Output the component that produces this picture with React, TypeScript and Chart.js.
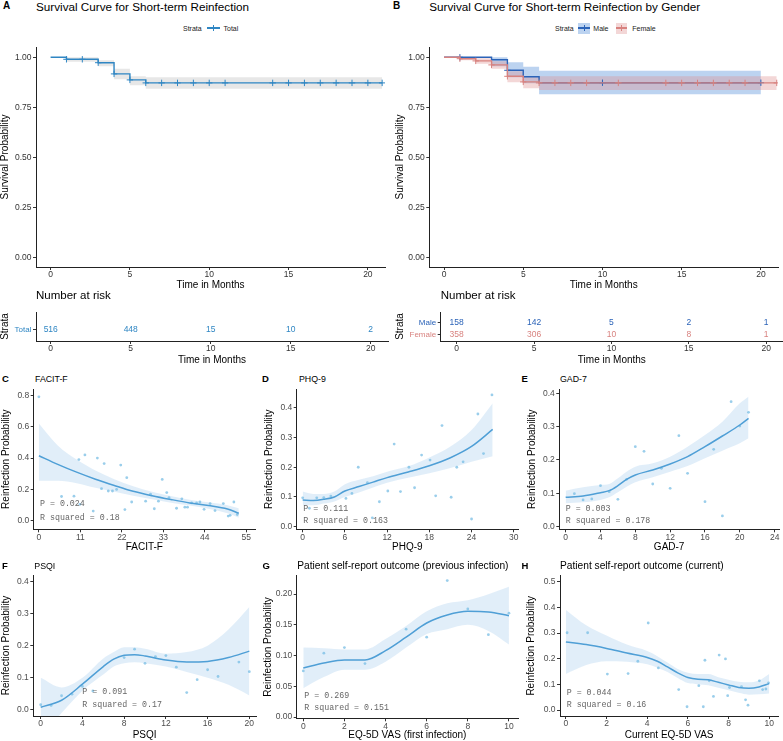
import React, { useEffect, useRef } from 'react';
import { Chart, registerables } from 'chart.js';
Chart.register(...registerables);

const SANS = '"Liberation Sans", Arial, Helvetica, sans-serif';
const MONO = '"Liberation Mono", "DejaVu Sans Mono", monospace';

// ---------------- Kaplan-Meier data ----------------
const kmTotalTime = [0, 1, 3, 4, 5, 6, 20.9];
const kmTotalSurv = [1, 0.99, 0.973, 0.917, 0.887, 0.872, 0.872];
const kmTotalUpper = [1, 1, 0.985, 0.943, 0.905, 0.9, 0.9];
const kmTotalLower = [1, 0.978, 0.955, 0.89, 0.86, 0.843, 0.843];
const kmTotalCensorTime = [1, 2, 3, 4, 5, 6, 7, 8, 9, 10, 11, 14, 15, 16, 17, 18, 19, 20, 20.9];
const kmTotalCensorSurv = [0.99, 0.99, 0.973, 0.917, 0.887, 0.872, 0.872, 0.872, 0.872, 0.872, 0.872, 0.872, 0.872, 0.872, 0.872, 0.872, 0.872, 0.872, 0.872];

const kmMaleTime = [0, 3, 4, 5, 6, 20];
const kmMaleSurv = [1, 0.988, 0.935, 0.903, 0.873, 0.873];
const kmMaleUpper = [1, 1, 0.975, 0.953, 0.933, 0.933];
const kmMaleLower = [1, 0.955, 0.9, 0.87, 0.815, 0.815];
const kmMaleCensorTime = [1, 4, 10, 20];
const kmMaleCensorSurv = [1, 0.935, 0.873, 0.873];

const kmFemaleTime = [0, 1, 2, 3, 4, 5, 6, 21];
const kmFemaleSurv = [1, 0.993, 0.982, 0.962, 0.905, 0.877, 0.872, 0.872];
const kmFemaleUpper = [1, 1, 0.995, 0.98, 0.93, 0.905, 0.905, 0.905];
const kmFemaleLower = [1, 0.985, 0.968, 0.943, 0.875, 0.845, 0.837, 0.837];
const kmFemaleCensorTime = [1, 2, 3, 4, 5, 6, 7, 8, 9, 11, 14, 15, 16, 17, 18, 19, 21];
const kmFemaleCensorSurv = [0.993, 0.982, 0.962, 0.905, 0.877, 0.872, 0.872, 0.872, 0.872, 0.872, 0.872, 0.872, 0.872, 0.872, 0.872, 0.872, 0.872];

const kmTimeTicks = [0, 5, 10, 15, 20];
const kmSurvTicks = [0, 0.25, 0.5, 0.75, 1];

// ---------------- Number at risk ----------------
const riskTimes = [0, 5, 10, 15, 20];
const riskTotal = [516, 448, 15, 10, 2];
const riskMale = [158, 142, 5, 2, 1];
const riskFemale = [358, 306, 10, 8, 1];

// ---------------- C: FACIT-F ----------------
const facitX = [0, 6, 9.3, 10.6, 12.2, 10.9, 14.4, 15.5, 17.3, 16.6, 18.4, 19.5, 20.6, 21.7, 22.8, 23.3, 24.6, 28.3, 29.6, 30.6, 31.7, 32.7, 33.9, 34.5, 36.5, 37.9, 38.7, 39.4, 40.5, 41.8, 42.7, 43.8, 45.4, 46.7, 48.9, 50.2, 50.7, 51.7, 52.6];
const facitY = [0.79, 0.155, 0.157, 0.39, 0.42, 0.105, 0.062, 0.4, 0.365, 0.205, 0.19, 0.19, 0.2, 0.355, 0.072, 0.275, 0.12, 0.125, 0.17, 0.077, 0.125, 0.264, 0.18, 0.148, 0.08, 0.14, 0.087, 0.087, 0.114, 0.114, 0.12, 0.073, 0.11, 0.065, 0.11, 0.03, 0.035, 0.12, 0.04];
const facitFitX = [0, 5, 10, 15, 20, 25, 30, 35, 40, 45, 50, 53];
const facitFit = [0.415, 0.36, 0.31, 0.265, 0.225, 0.188, 0.16, 0.136, 0.114, 0.097, 0.075, 0.048];
const facitUpper = [0.62, 0.48, 0.39, 0.32, 0.265, 0.22, 0.185, 0.158, 0.135, 0.118, 0.1, 0.08];
const facitLower = [0.255, 0.255, 0.24, 0.21, 0.185, 0.16, 0.137, 0.115, 0.097, 0.077, 0.048, 0.02];

// ---------------- D: PHQ-9 ----------------
const phqX = [0, 0.95, 2, 3, 4, 6.15, 7, 7.9, 9.2, 9.9, 10.9, 12.1, 13, 13.9, 15.1, 15.9, 16.9, 18.1, 18.9, 19.8, 21.1, 21.9, 22.8, 24, 24.9, 25.7, 26.9];
const phqY = [0.097, 0.062, 0.097, 0.098, 0.103, 0.095, 0.112, 0.2, 0.148, 0.03, 0.084, 0.12, 0.278, 0.118, 0.2, 0.131, 0.241, 0.224, 0.104, 0.34, 0.099, 0.2, 0.218, 0.026, 0.379, 0.246, 0.443];
const phqFitX = [0, 1.5, 3, 4.5, 6, 8, 10, 12, 15, 18, 21, 24, 27];
const phqFit = [0.09, 0.088, 0.092, 0.1, 0.12, 0.135, 0.15, 0.165, 0.184, 0.205, 0.232, 0.27, 0.327];
const phqUpper = [0.118, 0.11, 0.11, 0.118, 0.143, 0.158, 0.17, 0.185, 0.203, 0.233, 0.27, 0.325, 0.415];
const phqLower = [0.072, 0.072, 0.078, 0.085, 0.1, 0.115, 0.132, 0.148, 0.165, 0.18, 0.197, 0.218, 0.237];

// ---------------- E: GAD-7 ----------------
const gadX = [1, 2, 3, 4, 5, 6, 7, 8, 9, 10, 11, 12, 13, 14, 16, 17, 18, 19, 20, 21];
const gadY = [0.099, 0.08, 0.083, 0.123, 0.105, 0.082, 0.142, 0.24, 0.226, 0.128, 0.175, 0.115, 0.273, 0.16, 0.075, 0.232, 0.032, 0.375, 0.302, 0.343];
const gadFitX = [0, 2, 4, 5, 6, 7, 8, 10, 12, 14, 16, 18, 20, 21];
const gadFit = [0.088, 0.092, 0.102, 0.108, 0.123, 0.142, 0.155, 0.17, 0.188, 0.21, 0.24, 0.272, 0.305, 0.325];
const gadUpper = [0.108, 0.118, 0.125, 0.128, 0.145, 0.165, 0.18, 0.19, 0.21, 0.24, 0.275, 0.315, 0.37, 0.39];
const gadLower = [0.07, 0.073, 0.08, 0.088, 0.103, 0.12, 0.133, 0.148, 0.165, 0.182, 0.205, 0.228, 0.25, 0.265];

// ---------------- F: PSQI ----------------
const psqiX = [0, 1, 2, 3, 4, 5, 8, 9, 10, 11, 12, 13, 14, 15, 16, 17, 19, 20];
const psqiY = [0.016, 0.014, 0.044, 0.049, 0.073, 0.059, 0.163, 0.189, 0.145, 0.166, 0.169, 0.133, 0.054, 0.094, 0.125, 0.104, 0.149, 0.119];
const psqiFitX = [0, 2, 4, 6, 7, 8, 9, 10, 12, 14, 16, 18, 20];
const psqiFit = [0.008, 0.03, 0.08, 0.135, 0.158, 0.17, 0.172, 0.168, 0.155, 0.149, 0.151, 0.163, 0.183];
const psqiUpper = [0.1, 0.07, 0.1, 0.16, 0.18, 0.195, 0.195, 0.19, 0.175, 0.18, 0.2, 0.25, 0.32];
const psqiLower = [-0.085, -0.01, 0.06, 0.11, 0.135, 0.145, 0.148, 0.145, 0.135, 0.118, 0.1, 0.078, 0.045];

// ---------------- G: EQ-5D VAS (first infection) ----------------
const vasFirstX = [0, 1, 2, 3, 5, 6, 7, 8, 9, 10];
const vasFirstY = [0.075, 0.104, 0.113, 0.087, 0.143, 0.13, 0.222, 0.176, 0.134, 0.169];
const vasFirstFitX = [0, 1, 2, 3, 4, 5, 6, 7, 8, 9, 10];
const vasFirstFit = [0.08, 0.088, 0.093, 0.093, 0.108, 0.13, 0.153, 0.166, 0.172, 0.171, 0.165];
const vasFirstUpper = [0.113, 0.112, 0.11, 0.11, 0.127, 0.148, 0.172, 0.185, 0.19, 0.2, 0.212];
const vasFirstLower = [0.047, 0.065, 0.077, 0.077, 0.09, 0.113, 0.135, 0.143, 0.15, 0.14, 0.118];

// ---------------- H: Current EQ-5D VAS ----------------
const vasCurX = [0.06, 1.07, 2.04, 3.06, 3.54, 4.05, 4.55, 5.55, 5.96, 6.54, 6.76, 6.84, 7.05, 7.26, 7.54, 7.85, 7.96, 8.05, 8.64, 8.84, 8.96, 9.52, 9.68, 9.84, 9.97];
const vasCurY = [0.301, 0.301, 0.14, 0.142, 0.19, 0.339, 0.164, 0.08, 0.013, 0.095, 0.013, 0.194, 0.114, 0.053, 0.214, 0.199, 0.056, 0.088, 0.091, 0.04, 0.019, 0.114, 0.08, 0.082, 0.106];
const vasCurFitX = [0, 1, 2, 3, 4, 4.5, 5, 5.5, 6, 6.5, 7, 7.5, 8, 8.5, 9, 9.5, 10];
const vasCurFit = [0.265, 0.255, 0.24, 0.222, 0.205, 0.19, 0.168, 0.145, 0.127, 0.12, 0.118, 0.108, 0.098, 0.088, 0.085, 0.09, 0.103];
const vasCurUpper = [0.39, 0.33, 0.29, 0.255, 0.23, 0.21, 0.185, 0.16, 0.145, 0.14, 0.14, 0.128, 0.118, 0.11, 0.108, 0.115, 0.14];
const vasCurLower = [0.14, 0.175, 0.19, 0.188, 0.178, 0.165, 0.148, 0.125, 0.105, 0.1, 0.097, 0.087, 0.077, 0.067, 0.06, 0.062, 0.065];

// ---------------- styling ----------------
const TOTAL_COL = '#2f86c3';
const MALE_COL = '#2b63b8';
const FEMALE_COL = '#d8827f';
const GRAY_BAND = 'rgba(185,185,185,0.35)';
const MALE_BAND = 'rgba(95,150,220,0.42)';
const FEMALE_BAND = 'rgba(222,140,140,0.35)';
const FIT_COL = '#4f9fd6';
const PT_COL = 'rgba(120,190,228,0.75)';
const SM_BAND = 'rgba(170,205,238,0.35)';

const pts = (xs: number[], ys: number[]) => xs.map((x, i) => ({ x, y: ys[i] }));

function kmSets(t, s, up, lo, ct, cs, color, band) {
  return {
    lines: [
      { data: pts(t, s), showLine: true, stepped: true, borderColor: color, borderWidth: 1.4, pointRadius: 0, fill: false },
      { data: pts(ct, cs), showLine: false, pointStyle: 'cross', pointRadius: 3.2, pointBorderColor: color, pointBackgroundColor: color, pointBorderWidth: 1 },
    ],
    bands: [
      { data: pts(t, up), showLine: true, stepped: true, borderWidth: 0, borderColor: 'rgba(0,0,0,0)', pointRadius: 0, fill: '+1', backgroundColor: band },
      { data: pts(t, lo), showLine: true, stepped: true, borderWidth: 0, borderColor: 'rgba(0,0,0,0)', pointRadius: 0, fill: false },
    ],
  };
}

function smoothSets(px, py, fx, fy, fu, fl) {
  return [
    { data: pts(fx, fy), showLine: true, borderColor: FIT_COL, borderWidth: 1.5, pointRadius: 0, cubicInterpolationMode: 'monotone', fill: false },
    { data: pts(px, py), showLine: false, pointRadius: 1.4, pointBackgroundColor: PT_COL, pointBorderWidth: 0 },
    { data: pts(fx, fu), showLine: true, borderWidth: 0, borderColor: 'rgba(0,0,0,0)', pointRadius: 0, cubicInterpolationMode: 'monotone', fill: '+1', backgroundColor: SM_BAND },
    { data: pts(fx, fl), showLine: true, borderWidth: 0, borderColor: 'rgba(0,0,0,0)', pointRadius: 0, cubicInterpolationMode: 'monotone', fill: false },
  ];
}

const riskPlugin = {
  id: 'riskText',
  afterDatasetsDraw(chart, _a, opts) {
    const { ctx } = chart;
    const xs = chart.scales.x;
    const ys = chart.scales.y;
    ctx.save();
    ctx.font = `8.5px ${SANS}`;
    ctx.textAlign = 'center';
    ctx.textBaseline = 'middle';
    const rows = opts.rows || [];
    for (let r = 0; r < rows.length; r++) {
      const row = rows[r];
      ctx.fillStyle = row.color;
      for (let i = 0; i < row.values.length; i++) {
        ctx.fillText(String(row.values[i]), xs.getPixelForValue(opts.times[i]), ys.getPixelForValue(row.y));
      }
    }
    ctx.restore();
  },
};

type Spec = {
  canvas: { left: number; top: number; width: number; height: number };
  area: { left: number; top: number; right: number; bottom: number };
  x: { min: number; max: number; ticks: number[]; dec: number; title: string; titleY: number };
  y: { min: number; max: number; ticks: number[]; dec: number; title: string; titleX: number; labels?: string[]; colors?: string[]; labelSize?: number };
  datasets: any[];
  plugins?: any[];
  pluginOpts?: any;
  tickColor?: string;
};

function buildConfig(s: Spec) {
  const c = s.canvas;
  const a = s.area;
  const yW = a.left - c.left;
  const xH = c.top + c.height - a.bottom;
  const tfs = 10;
  const lh = tfs * 1.2;
  const tcol = s.tickColor || '#4d4d4d';
  return {
    type: 'scatter',
    data: { datasets: s.datasets },
    plugins: s.plugins || [],
    options: {
      responsive: false,
      maintainAspectRatio: false,
      animation: false,
      devicePixelRatio: 1,
      layout: { padding: { left: 0, top: a.top - c.top, right: c.left + c.width - a.right, bottom: 0 } },
      plugins: { legend: { display: false }, tooltip: { enabled: false }, ...(s.pluginOpts || {}) },
      scales: {
        x: {
          type: 'linear',
          position: 'bottom',
          min: s.x.min,
          max: s.x.max,
          afterBuildTicks: (sc) => { sc.ticks = s.x.ticks.map((v) => ({ value: v })); },
          afterFit: (sc) => { sc.height = xH; sc.paddingLeft = 0; sc.paddingRight = 0; },
          ticks: {
            autoSkip: false, maxRotation: 0, minRotation: 0, padding: 0, color: tcol,
            font: { family: SANS, size: 8.5 },
            callback: (v) => Number(v).toFixed(s.x.dec),
          },
          grid: { display: true, drawOnChartArea: false, drawTicks: true, tickLength: 3, tickColor: '#333', tickWidth: 1 },
          border: { display: true, color: '#222', width: 1 },
          title: {
            display: true, text: s.x.title, color: '#000', font: { family: SANS, size: tfs },
            padding: { top: 0, bottom: a.bottom + xH - s.x.titleY - lh / 2 },
          },
        },
        y: {
          type: 'linear',
          position: 'left',
          min: s.y.min,
          max: s.y.max,
          afterBuildTicks: (sc) => { sc.ticks = s.y.ticks.map((v) => ({ value: v })); },
          afterFit: (sc) => { sc.width = yW; sc.paddingTop = 0; sc.paddingBottom = 0; },
          ticks: {
            autoSkip: false, padding: 1.5,
            color: s.y.colors ? (ctx) => s.y.colors[ctx.index] : tcol,
            font: { family: SANS, size: s.y.labelSize || 8.5 },
            callback: (v, i) => (s.y.labels ? s.y.labels[i] : Number(v).toFixed(s.y.dec)),
          },
          grid: { display: true, drawOnChartArea: false, drawTicks: true, tickLength: 3, tickColor: '#333', tickWidth: 1 },
          border: { display: true, color: '#222', width: 1 },
          title: {
            display: true, text: s.y.title, color: '#000', font: { family: SANS, size: tfs },
            padding: { top: s.y.titleX - c.left - lh / 2, bottom: 0 },
          },
        },
      },
    },
  };
}

function ChartCanvas({ spec }: { spec: Spec }) {
  const ref = useRef<HTMLCanvasElement | null>(null);
  useEffect(() => {
    const chart = new Chart(ref.current as HTMLCanvasElement, buildConfig(spec) as any);
    return () => chart.destroy();
  }, []);
  const c = spec.canvas;
  return (
    <canvas
      ref={ref}
      width={c.width}
      height={c.height}
      style={{ position: 'absolute', left: c.left, top: c.top, width: c.width, height: c.height }}
    />
  );
}

function Txt({ x, y, size, children, color = '#000', bold = false, mono = false }) {
  return (
    <div
      style={{
        position: 'absolute', left: x, top: y - size / 2, fontSize: size, lineHeight: `${size}px`,
        fontFamily: mono ? MONO : SANS, color, fontWeight: bold ? 'bold' : 'normal', whiteSpace: 'nowrap',
      }}
    >
      {children}
    </div>
  );
}

function Box({ x, y, w, h, bg }) {
  return <div style={{ position: 'absolute', left: x, top: y, width: w, height: h, background: bg }} />;
}

const totalKM = kmSets(kmTotalTime, kmTotalSurv, kmTotalUpper, kmTotalLower, kmTotalCensorTime, kmTotalCensorSurv, TOTAL_COL, GRAY_BAND);
const maleKM = kmSets(kmMaleTime, kmMaleSurv, kmMaleUpper, kmMaleLower, kmMaleCensorTime, kmMaleCensorSurv, MALE_COL, MALE_BAND);
const femaleKM = kmSets(kmFemaleTime, kmFemaleSurv, kmFemaleUpper, kmFemaleLower, kmFemaleCensorTime, kmFemaleCensorSurv, FEMALE_COL, FEMALE_BAND);

const specs: Spec[] = [
  // A
  {
    canvas: { left: 0, top: 40, width: 390, height: 252 },
    area: { left: 36, top: 47, right: 388, bottom: 267 },
    x: { min: -0.92, max: 21.08, ticks: kmTimeTicks, dec: 0, title: 'Time in Months', titleY: 285 },
    y: { min: -0.0485, max: 1.0515, ticks: kmSurvTicks, dec: 2, title: 'Survival Probability', titleX: 5.5 },
    datasets: [...totalKM.lines, ...totalKM.bands],
    tickColor: '#333',
  },
  // B
  {
    canvas: { left: 390, top: 40, width: 393, height: 252 },
    area: { left: 429.3, top: 47, right: 783, bottom: 267 },
    x: { min: -0.93, max: 21.08, ticks: kmTimeTicks, dec: 0, title: 'Time in Months', titleY: 285 },
    y: { min: -0.0485, max: 1.0515, ticks: kmSurvTicks, dec: 2, title: 'Survival Probability', titleX: 400.5 },
    datasets: [...femaleKM.lines, ...maleKM.lines, ...femaleKM.bands, ...maleKM.bands],
    tickColor: '#333',
  },
  // Risk A
  {
    canvas: { left: 0, top: 305, width: 390, height: 62 },
    area: { left: 36, top: 312, right: 388, bottom: 341 },
    x: { min: -0.92, max: 21.08, ticks: kmTimeTicks, dec: 0, title: 'Time in Months', titleY: 360 },
    y: { min: 0, max: 1, ticks: [0.403], dec: 0, title: 'Strata', titleX: 5.5, labels: ['Total'], colors: [TOTAL_COL], labelSize: 8 },
    datasets: [],
    plugins: [riskPlugin],
    pluginOpts: { riskText: { times: riskTimes, rows: [{ y: 0.403, values: riskTotal, color: TOTAL_COL }] } },
    tickColor: '#333',
  },
  // Risk B
  {
    canvas: { left: 390, top: 305, width: 393, height: 62 },
    area: { left: 440.7, top: 312, right: 783, bottom: 341 },
    x: { min: -1.03, max: 21.09, ticks: kmTimeTicks, dec: 0, title: 'Time in Months', titleY: 360 },
    y: { min: 0, max: 1, ticks: [0.207, 0.631], dec: 0, title: 'Strata', titleX: 400, labels: ['Female', 'Male'], colors: [FEMALE_COL, MALE_COL], labelSize: 8 },
    datasets: [],
    plugins: [riskPlugin],
    pluginOpts: {
      riskText: {
        times: riskTimes,
        rows: [
          { y: 0.631, values: riskMale, color: MALE_COL },
          { y: 0.207, values: riskFemale, color: FEMALE_COL },
        ],
      },
    },
    tickColor: '#333',
  },
  // C
  {
    canvas: { left: 0, top: 385, width: 260, height: 170 },
    area: { left: 33.7, top: 388, right: 255, bottom: 529.3 },
    x: { min: -1.38, max: 57.3, ticks: [0, 11, 22, 33, 44, 55], dec: 0, title: 'FACIT-F', titleY: 547.7 },
    y: { min: -0.054, max: 0.84, ticks: [0, 0.2, 0.4, 0.6, 0.8], dec: 1, title: 'Reinfection Probability', titleX: 6 },
    datasets: smoothSets(facitX, facitY, facitFitX, facitFit, facitUpper, facitLower),
  },
  // D
  {
    canvas: { left: 260, top: 385, width: 262, height: 170 },
    area: { left: 296.7, top: 389, right: 518.3, bottom: 529.3 },
    x: { min: -0.85, max: 30.6, ticks: [0, 6, 12, 18, 24, 30], dec: 0, title: 'PHQ-9', titleY: 547.7 },
    y: { min: -0.0087, max: 0.463, ticks: [0, 0.1, 0.2, 0.3, 0.4], dec: 1, title: 'Reinfection Probability', titleX: 269 },
    datasets: smoothSets(phqX, phqY, phqFitX, phqFit, phqUpper, phqLower),
  },
  // E
  {
    canvas: { left: 520, top: 385, width: 263, height: 170 },
    area: { left: 559.3, top: 389, right: 779.3, bottom: 529.3 },
    x: { min: -0.73, max: 24.5, ticks: [0, 4, 8, 12, 16, 20, 24], dec: 0, title: 'GAD-7', titleY: 547.7 },
    y: { min: -0.008, max: 0.413, ticks: [0, 0.1, 0.2, 0.3, 0.4], dec: 1, title: 'Reinfection Probability', titleX: 532 },
    datasets: smoothSets(gadX, gadY, gadFitX, gadFit, gadUpper, gadLower),
  },
  // F
  {
    canvas: { left: 0, top: 570, width: 260, height: 171 },
    area: { left: 33.3, top: 575, right: 256, bottom: 716 },
    x: { min: -0.71, max: 20.64, ticks: [0, 4, 8, 12, 16, 20], dec: 0, title: 'PSQI', titleY: 735 },
    y: { min: -0.019, max: 0.42, ticks: [0, 0.1, 0.2, 0.3, 0.4], dec: 1, title: 'Reinfection Probability', titleX: 6 },
    datasets: smoothSets(psqiX, psqiY, psqiFitX, psqiFit, psqiUpper, psqiLower),
  },
  // G
  {
    canvas: { left: 260, top: 570, width: 262, height: 171 },
    area: { left: 296.7, top: 575.7, right: 518.3, bottom: 718.3 },
    x: { min: -0.32, max: 10.44, ticks: [0, 2, 4, 6, 8, 10], dec: 0, title: 'EQ-5D VAS (first infection)', titleY: 735 },
    y: { min: -0.002, max: 0.23, ticks: [0, 0.05, 0.1, 0.15, 0.2], dec: 2, title: 'Reinfection Probability', titleX: 268.5 },
    datasets: smoothSets(vasFirstX, vasFirstY, vasFirstFitX, vasFirstFit, vasFirstUpper, vasFirstLower),
  },
  // H
  {
    canvas: { left: 520, top: 570, width: 263, height: 171 },
    area: { left: 560, top: 575.7, right: 778.3, bottom: 716 },
    x: { min: -0.29, max: 10.45, ticks: [0, 2, 4, 6, 8, 10], dec: 0, title: 'Current EQ-5D VAS', titleY: 735 },
    y: { min: -0.023, max: 0.523, ticks: [0, 0.1, 0.2, 0.3, 0.4, 0.5], dec: 1, title: 'Reinfection Probability', titleX: 531.5 },
    datasets: smoothSets(vasCurX, vasCurY, vasCurFitX, vasCurFit, vasCurUpper, vasCurLower),
  },
];

const annotations = [
  { x: 40, y: 504, t: 'P = 0.024' }, { x: 40, y: 517.7, t: 'R squared = 0.18' },
  { x: 303.3, y: 509, t: 'P = 0.111' }, { x: 303.3, y: 521, t: 'R squared = 0.163' },
  { x: 565.7, y: 509.3, t: 'P = 0.003' }, { x: 565.7, y: 521, t: 'R squared = 0.178' },
  { x: 82.3, y: 692.3, t: 'P = 0.091' }, { x: 82.3, y: 705, t: 'R squared = 0.17' },
  { x: 304.3, y: 696, t: 'P = 0.269' }, { x: 304.3, y: 708.3, t: 'R squared = 0.151' },
  { x: 566.7, y: 692.7, t: 'P = 0.044' }, { x: 566.7, y: 705, t: 'R squared = 0.16' },
];

export default function App() {
  return (
    <div style={{ position: 'absolute', left: 0, top: 0, width: 783, height: 741, background: '#fff', overflow: 'hidden' }}>
      {specs.map((s, i) => <ChartCanvas key={i} spec={s} />)}

      {/* Panel letters and titles */}
      <Txt x={3} y={6} size={10} bold>A</Txt>
      <Txt x={36} y={7} size={11.7}>Survival Curve for Short-term Reinfection</Txt>
      <Txt x={393} y={6} size={10} bold>B</Txt>
      <Txt x={429.3} y={7} size={11.7}>Survival Curve for Short-term Reinfection by Gender</Txt>

      {/* Legend A */}
      <Txt x={183} y={28} size={7} color="#222">Strata</Txt>
      <Box x={207} y={27.3} w={13} h={1.4} bg={TOTAL_COL} />
      <Box x={212.9} y={25} w={1.2} h={6} bg={TOTAL_COL} />
      <Txt x={223.5} y={28} size={7} color="#222">Total</Txt>

      {/* Legend B */}
      <Txt x={555} y={28} size={7} color="#222">Strata</Txt>
      <Box x={578.3} y={22.5} w={11.7} h={11} bg={MALE_BAND} />
      <Box x={578.3} y={27.3} w={11.7} h={1.4} bg={MALE_COL} />
      <Box x={583.6} y={25} w={1.2} h={6} bg={MALE_COL} />
      <Txt x={593.3} y={28} size={7} color="#222">Male</Txt>
      <Box x={615.7} y={22.5} w={11.7} h={11} bg={FEMALE_BAND} />
      <Box x={615.7} y={27.3} w={11.7} h={1.4} bg={FEMALE_COL} />
      <Box x={621} y={25} w={1.2} h={6} bg={FEMALE_COL} />
      <Txt x={632.3} y={28} size={7} color="#222">Female</Txt>

      {/* Risk table titles */}
      <Txt x={36} y={296} size={11.5}>Number at risk</Txt>
      <Txt x={440.7} y={296} size={11.5}>Number at risk</Txt>

      {/* Row 1 */}
      <Txt x={2} y={379} size={9.5} bold>C</Txt>
      <Txt x={35} y={379} size={8.8}>FACIT-F</Txt>
      <Txt x={262} y={379} size={9.5} bold>D</Txt>
      <Txt x={299} y={379} size={8.8}>PHQ-9</Txt>
      <Txt x={521.5} y={379} size={9.5} bold>E</Txt>
      <Txt x={560} y={379} size={8.8}>GAD-7</Txt>

      {/* Row 2 */}
      <Txt x={2} y={565.5} size={9.5} bold>F</Txt>
      <Txt x={34.3} y={566} size={8.8}>PSQI</Txt>
      <Txt x={262.5} y={566} size={9.5} bold>G</Txt>
      <Txt x={297.3} y={566.5} size={10.2}>Patient self-report outcome (previous infection)</Txt>
      <Txt x={521.5} y={566} size={9.5} bold>H</Txt>
      <Txt x={560} y={566.5} size={10.2}>Patient self-report outcome (current)</Txt>

      {annotations.map((a, i) => (
        <Txt key={'an' + i} x={a.x} y={a.y} size={8.3} color="#666" mono>{a.t}</Txt>
      ))}
    </div>
  );
}
